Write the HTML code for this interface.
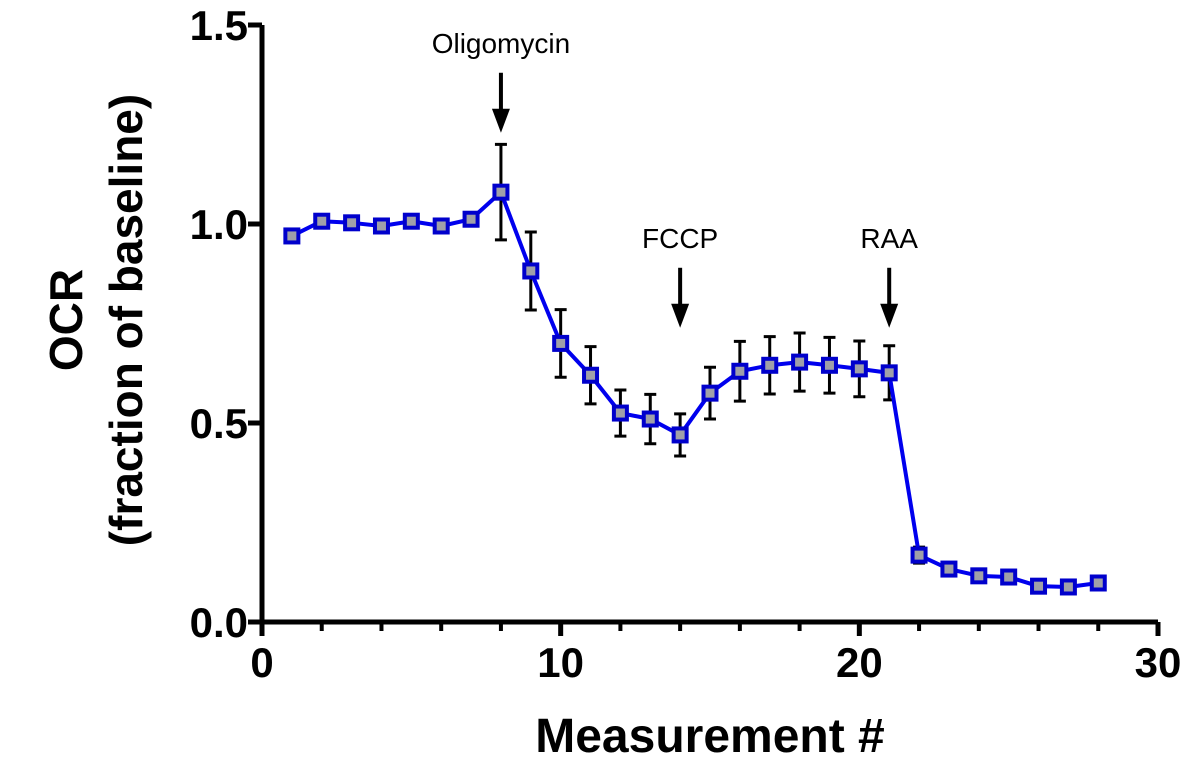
<!DOCTYPE html>
<html><head><meta charset="utf-8"><style>
html,body{margin:0;padding:0;background:#fff;}
svg{display:block;font-family:"Liberation Sans",Arial,sans-serif;}
</style></head><body>
<svg id="chart" width="1200" height="781" viewBox="0 0 1200 781">
<g id="axes"></g>
<g id="marks"></g>
</svg>
<script>
const measurements=[1,2,3,4,5,6,7,8,9,10,11,12,13,14,15,16,17,18,19,20,21,22,23,24,25,26,27,28];
const ocrValues=[0.97,1.007,1.003,0.995,1.007,0.995,1.012,1.08,0.882,0.70,0.62,0.525,0.51,0.47,0.575,0.63,0.645,0.653,0.645,0.636,0.626,0.168,0.133,0.116,0.113,0.09,0.088,0.098];
const ocrErrors=[0,0,0,0,0,0,0,0.12,0.098,0.085,0.072,0.058,0.062,0.053,0.065,0.075,0.072,0.073,0.07,0.07,0.068,0.02,0.015,0.01,0.006,0.006,0.006,0.015];
const xTicks=[0,10,20,30];
const xMinorTicks=[2,4,6,8,12,14,16,18,22,24,26,28];
const yTicks=[0,0.5,1.0,1.5];
const yTickLabels=["0.0","0.5","1.0","1.5"];
const injections=[{x:8,label:"Oligomycin",y:1.08},{x:14,label:"FCCP",y:0.47},{x:21,label:"RAA",y:0.626}];
const injTop=[1.38,0.89,0.89];

const NS="http://www.w3.org/2000/svg";
const X=v=>262+v*(1158-262)/30;
const Y=v=>622-v*(622-25)/1.5;
function mk(tag,attrs,parent,text){const e=document.createElementNS(NS,tag);for(const k in attrs)e.setAttribute(k,attrs[k]);if(text!==undefined)e.textContent=text;parent.appendChild(e);return e;}
const axes=document.getElementById('axes'),marks=document.getElementById('marks');

let e=mk('line',{x1:X(0),y1:Y(0),x2:X(30),y2:Y(0),stroke:'#000','stroke-width':5},axes);

e=mk('line',{x1:X(0),y1:Y(0)+2,x2:X(0),y2:Y(1.5),stroke:'#000','stroke-width':5},axes);

xTicks.forEach(t=>{
 let l=mk('line',{x1:X(t),y1:Y(0),x2:X(t),y2:Y(0)+14,stroke:'#000','stroke-width':5},axes);
 
 let tx=mk('text',{x:X(t),y:677,'text-anchor':'middle','font-size':42,'font-weight':'bold'},axes,String(t));
 
});
xMinorTicks.forEach(t=>{
 let l=mk('line',{x1:X(t),y1:Y(0),x2:X(t),y2:Y(0)+9,stroke:'#000','stroke-width':4},axes);
 
});
yTicks.forEach((t,i)=>{
 let l=mk('line',{x1:X(0)-14,y1:Y(t),x2:X(0),y2:Y(t),stroke:'#000','stroke-width':5},axes);
 
 let tx=mk('text',{x:248,y:Y(t)+15,'text-anchor':'end','font-size':42,'font-weight':'bold'},axes,yTickLabels[i]);
 
});
e=mk('text',{x:710,y:752,'text-anchor':'middle','font-size':48,'font-weight':'bold'},axes,'Measurement #');

e=mk('text',{x:0,y:0,'text-anchor':'middle','font-size':46,'font-weight':'bold',transform:'translate(82,320) rotate(-90)'},axes,'OCR');

e=mk('text',{x:0,y:0,'text-anchor':'middle','font-size':46,'font-weight':'bold',transform:'translate(142,320) rotate(-90)'},axes,'(fraction of baseline)');


injections.forEach((inj,i)=>{
 const x=X(inj.x),top=Y(injTop[i]);
 let t=mk('text',{x:x,y:top-20,'text-anchor':'middle','font-size':28},axes,inj.label);
 
 let l=mk('line',{x1:x,y1:top,x2:x,y2:top+40,stroke:'#000','stroke-width':4},axes);
 
 let p=mk('polygon',{points:`${x-9},${top+36} ${x+9},${top+36} ${x},${top+60}`,fill:'#000'},axes);
 
});

measurements.forEach((m,i)=>{
 if(ocrErrors[i]>0){
  const x=X(m),y1=Y(ocrValues[i]+ocrErrors[i]),y2=Y(ocrValues[i]-ocrErrors[i]);
  let g=mk('path',{d:`M${x},${y1}V${y2}M${x-6},${y1}H${x+6}M${x-6},${y2}H${x+6}`,stroke:'#000','stroke-width':3,fill:'none'},marks);
  
 }
});
let line=mk('polyline',{points:measurements.map((m,i)=>X(m)+','+Y(ocrValues[i])).join(' '),fill:'none',stroke:'#0000ee','stroke-width':4,'stroke-linejoin':'round'},marks);

measurements.forEach((m,i)=>{
 let r=mk('rect',{x:X(m)-6.5,y:Y(ocrValues[i])-6.5,width:13,height:13,fill:'#a0a0a8',stroke:'#0000cc','stroke-width':4},marks);
 
});
</script>
</body></html>
